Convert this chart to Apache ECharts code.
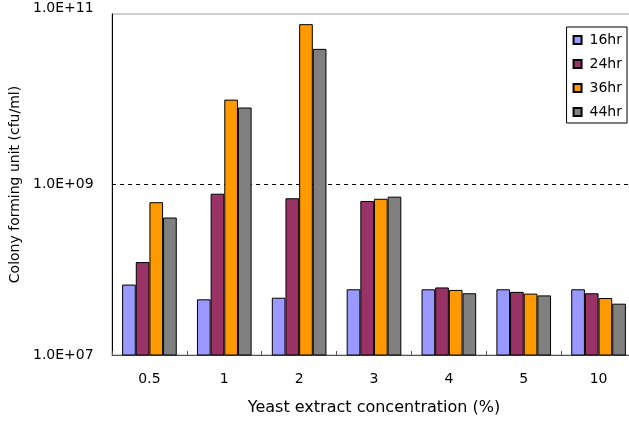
<!DOCTYPE html>
<html>
<head>
<meta charset="utf-8">
<script src="https://cdn.jsdelivr.net/npm/echarts@6/dist/echarts.min.js"></script>
<style>
  html, body { margin: 0; padding: 0; background: #fff; }
  #chart { width: 629px; height: 423px; }
</style>
</head>
<body>
<div id="chart"></div>
<script>
// Yeast extract concentrations (%)
const categories = ['0.5', '1', '2', '3', '4', '5', '10'];
const seriesNames = ['16hr', '24hr', '36hr', '44hr'];

// Colony forming units (cfu/ml) per incubation time
const cfu16 = [6.7e7, 4.5e7, 4.7e7, 5.9e7, 5.9e7, 5.9e7, 5.9e7];
const cfu24 = [1.23e8, 7.8e8, 6.9e8, 6.4e8, 6.2e7, 5.5e7, 5.3e7];
const cfu36 = [6.2e8, 9.9e9, 7.6e10, 6.8e8, 5.8e7, 5.25e7, 4.66e7];
const cfu44 = [4.1e8, 8.0e9, 3.9e10, 7.2e8, 5.3e7, 5.0e7, 4.0e7];

const colors = ['#9999ff', '#993366', '#ff9900', '#808080'];
const values = [cfu16, cfu24, cfu36, cfu44];

const font = 'DejaVu Sans, sans-serif';
const yMin = 1e7;
const yMax = 1e11;

// 1.0E+07 style tick text; the top label sits a little above its line
function sciLabel(v) {
  const e = Math.round(Math.log10(v));
  const txt = '1.0E+' + (e < 10 ? '0' + e : e);
  return v >= yMax ? '{top|' + txt + '}' : txt;
}

const chart = echarts.init(document.getElementById('chart'));
chart.setOption({
  animation: false,
  textStyle: { fontFamily: font },
  grid: {
    left: 112, right: -7, top: 14, bottom: 68,
    containLabel: false,
    outerBoundsMode: 'none',
    show: true, borderColor: '#a0a0a0', borderWidth: 1, backgroundColor: '#fff'
  },
  legend: {
    orient: 'vertical',
    right: 2, top: 27,
    itemWidth: 8, itemHeight: 8, itemGap: 8,
    padding: [5, 5, 3, 6],
    borderColor: '#000', borderWidth: 1,
    backgroundColor: '#fff',
    icon: 'rect',
    textStyle: { fontSize: 14, color: '#000', fontFamily: font, lineHeight: 16, padding: [0, 0, 0, 3] },
    data: seriesNames
  },
  xAxis: {
    type: 'category',
    data: categories,
    name: 'Yeast extract concentration (%)',
    nameLocation: 'middle',
    nameGap: 45,
    nameTextStyle: { fontSize: 16, color: '#000', fontFamily: font },
    axisLine: { lineStyle: { color: '#555', width: 1 } },
    axisTick: { show: true, inside: true, length: 4, lineStyle: { color: '#555' } },
    axisLabel: { fontSize: 14, color: '#000', margin: 17, fontFamily: font }
  },
  yAxis: {
    type: 'log',
    logBase: 10,
    min: yMin,
    max: yMax,
    interval: 2,
    name: 'Colony forming unit (cfu/ml)',
    nameLocation: 'middle',
    nameGap: 83,
    nameTextStyle: { fontSize: 14, color: '#000', fontFamily: font },
    axisLine: { show: true, lineStyle: { color: '#000', width: 1 } },
    axisTick: { show: false },
    axisLabel: {
      fontSize: 14, color: '#000', fontFamily: font,
      align: 'left', margin: 79,
      formatter: sciLabel,
      rich: { top: { fontSize: 14, fontFamily: font, color: '#000', padding: [0, 0, 12, 0] } }
    },
    splitLine: {
      show: true, showMinLine: false, showMaxLine: false,
      lineStyle: { color: '#000', type: [4, 4], width: 1 }
    }
  },
  series: seriesNames.map((name, i) => ({
    name: name,
    type: 'bar',
    data: values[i],
    barGap: '0%',
    barCategoryGap: '27%',
    itemStyle: { color: colors[i], borderColor: '#000', borderWidth: 1 }
  }))
});
</script>
</body>
</html>
